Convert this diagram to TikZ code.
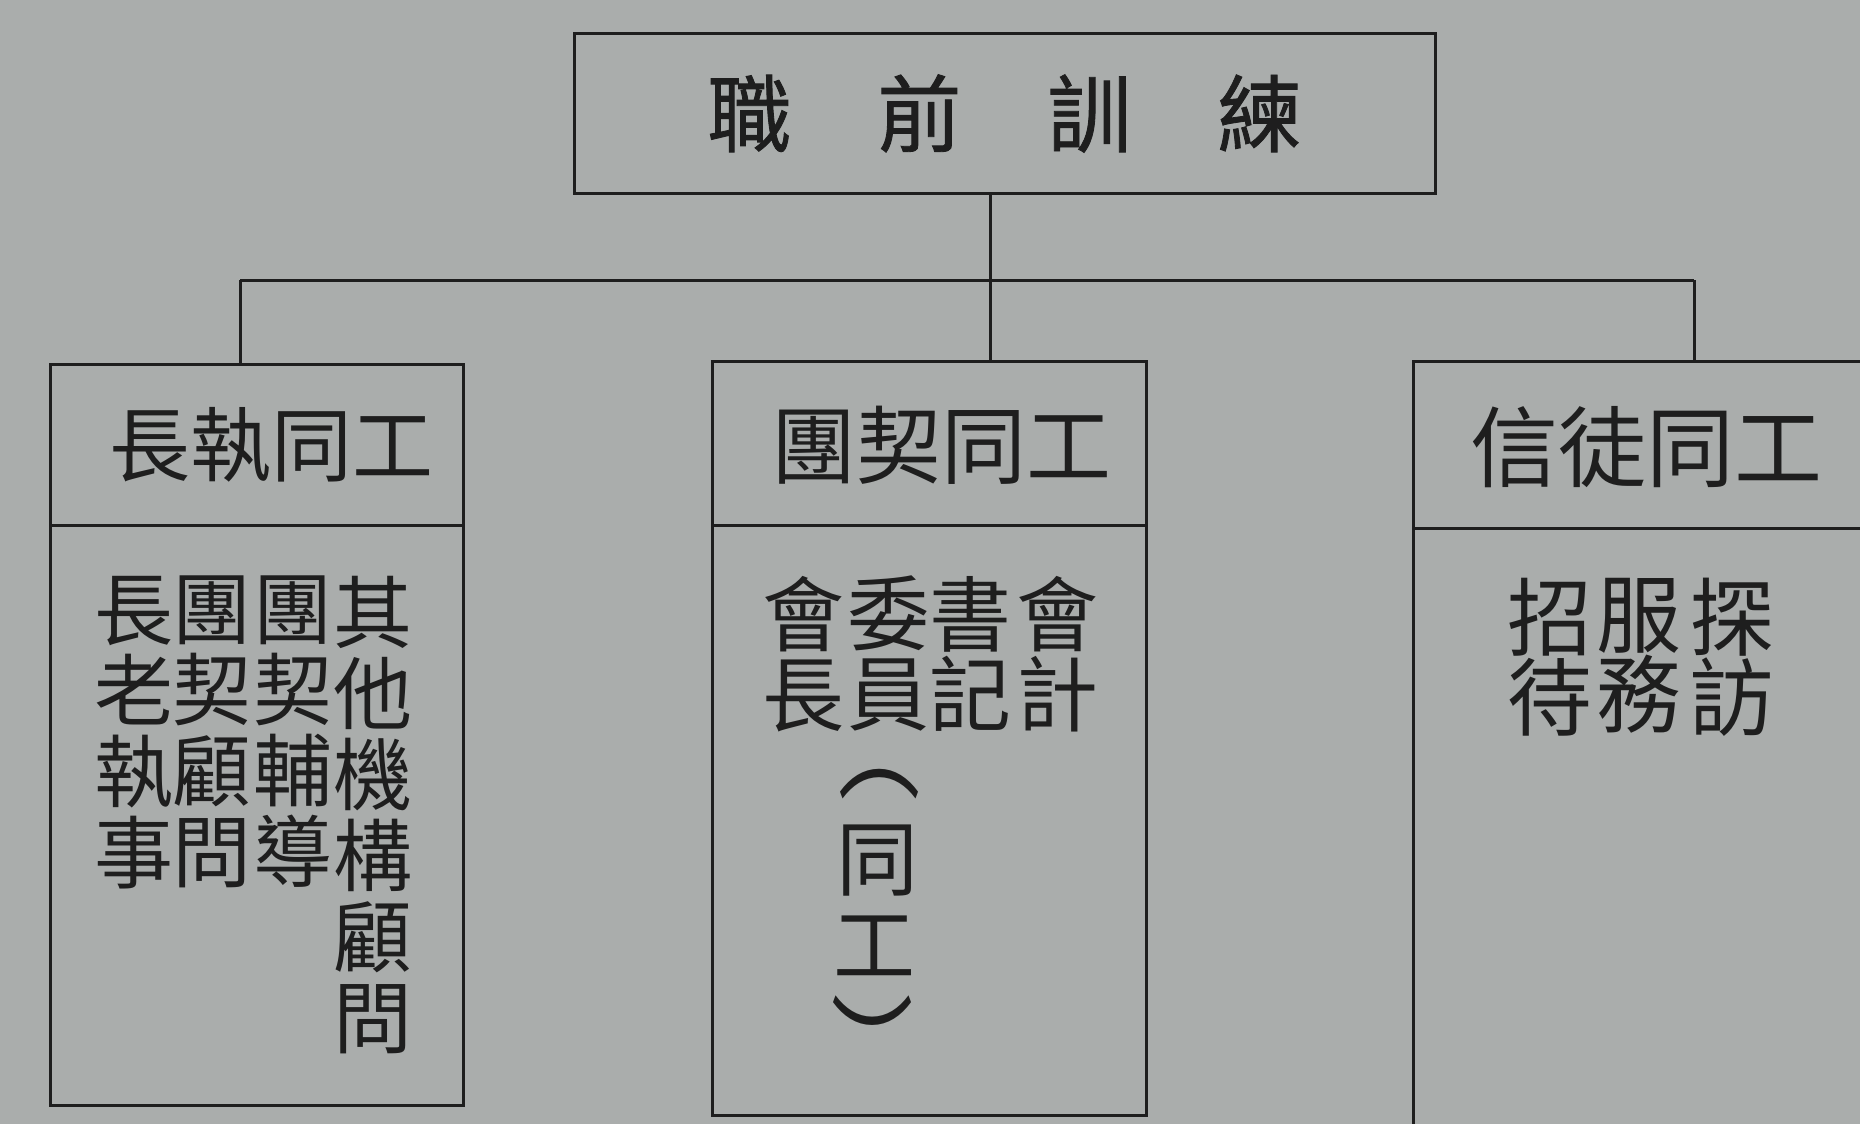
\documentclass[tikz,border=0pt]{standalone}
\usepackage{fontspec}
\newfontfamily\cjk{Noto Sans CJK TC}
\newfontfamily\cjkt{Noto Sans CJK TC}[FakeBold=1]
\definecolor{paper}{RGB}{170,173,172}
\definecolor{ink}{RGB}{30,30,30}
\newcommand\tfont{\cjkt\fontsize{84}{84}\selectfont}
\newcommand\hfontL{\cjk\fontsize{81}{81}\selectfont}
\newcommand\hfontM{\cjk\fontsize{85}{85}\selectfont}
\newcommand\hfontR{\cjk\fontsize{88}{88}\selectfont}
\newcommand\bfontL{\cjk\fontsize{79}{81}\selectfont\lineskiplimit=-1000pt}
\newcommand\bfontM{\cjk\fontsize{82}{80}\selectfont\lineskiplimit=-1000pt}
\newcommand\bfontR{\cjk\fontsize{85}{80}\selectfont\lineskiplimit=-1000pt}
\tikzset{
  box/.style={draw=ink, line width=3pt, inner sep=0pt, outer sep=0pt, rectangle},
  conn/.style={draw=ink, line width=3pt},
  txt/.style={text=ink, inner sep=0pt, outer sep=0pt},
  colm/.style={txt, anchor=north, align=center},
}
\begin{document}
\begin{tikzpicture}[x=1pt,y=-1pt]
\fill[paper] (0,0) rectangle (1860,1124);
\useasboundingbox (0,0) rectangle (1860,1124);

% top box
\node[box, minimum width=861pt, minimum height=159pt, text=ink, font=\tfont] (T) at (1004.5,113.5)
  {職\hspace{86pt}前\hspace{86pt}訓\hspace{86pt}練};

% left box
\node[box, minimum width=413pt, minimum height=161pt] (Lh) at (256.5,444.5) {};
\node[box, minimum width=413pt, minimum height=580pt] (Lb) at (256.5,815) {};
% middle box
\node[box, minimum width=434pt, minimum height=164pt] (Mh) at (929,443) {};
\node[box, minimum width=434pt, minimum height=590pt] (Mb) at (929,820) {};
% right box
\node[box, minimum width=477pt, minimum height=167pt] (Rh) at (1651.5,444.5) {};
\node[box, minimum width=477pt, minimum height=622pt] (Rb) at (1651.5,839) {};

% connectors
\coordinate (busL) at (240,280);
\coordinate (busM) at (990,280);
\coordinate (busR) at (1694,280);
\draw[conn] (busL) -- (busR);
\draw[conn] (T.south -| busM) -- (busM) -- (Mh.north -| busM);
\draw[conn] (busL) -- (Lh.north -| busL);
\draw[conn] (busR) -- (Rh.north -| busR);

% headers
\node[txt, font=\hfontL] (hL) at (271,445) {長執同工};
\node[txt, font=\hfontM] (hM) at (941,445) {團契同工};
\node[txt, font=\hfontR] (hR) at (1646,447) {信徒同工};

% left body (vertical columns)
\node[colm, font=\bfontL] (l1) at (134,576) {長\\老\\執\\事};
\node[colm, font=\bfontL] (l2) at (212,576) {團\\契\\顧\\問};
\node[colm, font=\bfontL] (l3) at (293,576) {團\\契\\輔\\導};
\node[colm, font=\bfontL] (l4) at (373,576) {其\\他\\機\\構\\顧\\問};

% middle body
\node[colm, font=\bfontM] (m1) at (803,576) {會\\長};
\node[colm, font=\bfontM] (m2) at (888,576) {委\\員};
\node[colm, font=\bfontM] (m3) at (970,576) {書\\記};
\node[colm, font=\bfontM] (m4) at (1057,576) {會\\計};
\node[txt, font=\bfontM] (p1) at (879,784) {\scalebox{1}[1.4]{︵}};
\node[txt, font=\bfontM] (p2) at (877,861) {同};
\node[txt, font=\bfontM] (p3) at (874,946) {工};
\node[txt, font=\bfontM] (p4) at (872,1044) {\scalebox{1}[1.4]{︶}};

% right body
\node[colm, font=\bfontR] (r1) at (1550,578) {招\\待};
\node[colm, font=\bfontR] (r2) at (1639,578) {服\\務};
\node[colm, font=\bfontR] (r3) at (1732,578) {探\\訪};
\end{tikzpicture}
\end{document}
